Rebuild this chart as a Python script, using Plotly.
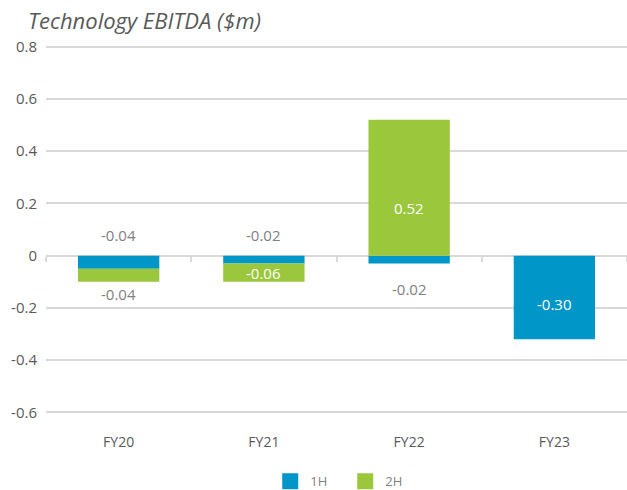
import plotly.graph_objects as go

categories = ["FY20", "FY21", "FY22", "FY23"]
h1_values = [-0.05, -0.03, -0.03, -0.32]
h2_values = [-0.05, -0.07, 0.52, 0.0]
h1_labels = ["-0.04", "-0.02", "-0.02", "-0.30"]
h2_labels = ["-0.04", "-0.06", "0.52", ""]
series_names = ["1H", "2H"]
y_ticks = [-0.6, -0.4, -0.2, 0, 0.2, 0.4, 0.6, 0.8]
y_tick_text = ["-0.6", "-0.4", "-0.2", "0", "0.2", "0.4", "0.6", "0.8"]

BLUE = "#0096c8"
GREEN = "#9ac73c"
GRID = "#d9d9d9"
TXT = "#595959"
LBL = "#808080"
FONT = "Open Sans"
LSIZE = 15

fig = go.Figure()
fig.add_trace(go.Bar(x=categories, y=h1_values, name=series_names[0], marker=dict(color=BLUE, line=dict(width=0)),
                     hoverinfo="skip", showlegend=False))
fig.add_trace(go.Bar(x=categories, y=h2_values, name=series_names[1], marker=dict(color=GREEN, line=dict(width=0)),
                     hoverinfo="skip", showlegend=False))
# legend entries with large square swatches
for nm, col in zip(series_names, [BLUE, GREEN]):
    fig.add_trace(go.Scatter(x=[None], y=[None], mode="markers", name=nm,
                             marker=dict(symbol="square", size=16, color=col), hoverinfo="skip"))
# invisible trace for the zero-crossing axis ticks
fig.add_trace(go.Scatter(x=categories, y=[0] * len(categories), xaxis="x2", mode="markers",
                         marker=dict(opacity=0), showlegend=False, hoverinfo="skip"))

ymin, ymax = -0.61, 0.81
zero_pos = (0 - ymin) / (ymax - ymin)
plot_h = 490 - 44 - 75

annotations = [dict(text="<i>Technology EBITDA ($m)</i>", xref="paper", yref="paper", x=-0.035, xanchor="left",
                    y=1.0 + 24 / plot_h, yanchor="middle", showarrow=False,
                    font=dict(size=22, color=TXT, family=FONT))]
for i, c in enumerate(categories):
    v1, v2 = h1_values[i], h2_values[i]
    if h1_labels[i]:
        if c == "FY23":
            annotations.append(dict(x=c, y=v1 / 2, text=h1_labels[i], showarrow=False, yshift=-7,
                                    font=dict(color="white", size=LSIZE, family=FONT)))
        elif c == "FY22":
            annotations.append(dict(x=c, y=v1, text=h1_labels[i], showarrow=False, yanchor="top", yshift=-14,
                                    font=dict(color=LBL, size=LSIZE, family=FONT)))
        else:
            annotations.append(dict(x=c, y=0, text=h1_labels[i], showarrow=False, yanchor="bottom", yshift=9,
                                    font=dict(color=LBL, size=LSIZE, family=FONT)))
    if h2_labels[i]:
        if c == "FY20":
            annotations.append(dict(x=c, y=v1 + v2, text=h2_labels[i], showarrow=False, yanchor="top", yshift=0,
                                    font=dict(color=LBL, size=LSIZE, family=FONT)))
        elif c == "FY21":
            annotations.append(dict(x=c, y=v1 + v2 / 2, text=h2_labels[i], showarrow=False,
                                    font=dict(color="white", size=LSIZE, family=FONT)))
        else:
            annotations.append(dict(x=c, y=v2 / 2, text=h2_labels[i], showarrow=False, yshift=-20,
                                    font=dict(color="white", size=LSIZE, family=FONT)))

fig.update_layout(
    width=627, height=490,
    barmode="relative",
    bargap=0.44,
    paper_bgcolor="white", plot_bgcolor="white",
    margin=dict(l=46, r=0, t=44, b=75, autoexpand=False),
    font=dict(family=FONT, color=TXT, size=14),
    xaxis=dict(type="category", categoryorder="array", categoryarray=categories, range=[-0.5, 3.5],
               showline=False, showgrid=False, ticks="", tickfont=dict(size=14, color=TXT),
               ticklabelstandoff=17, zeroline=False, automargin=False),
    xaxis2=dict(type="category", categoryorder="array", categoryarray=categories, range=[-0.5, 3.5],
                overlaying="x", anchor="free", position=zero_pos, side="bottom",
                showline=False, showgrid=False, showticklabels=False, ticks="outside", tickson="boundaries",
                ticklen=5, tickcolor=GRID, tickwidth=1.5, zeroline=False),
    yaxis=dict(range=[ymin, ymax], tickvals=y_ticks, ticktext=y_tick_text, showgrid=True,
               gridcolor=GRID, gridwidth=1.5, zeroline=False, showline=False, ticks="", ticklabelstandoff=8,
               tickfont=dict(size=15, color=TXT), automargin=False),
    legend=dict(orientation="h", x=0.515, xanchor="center", y=-0.138, yanchor="top",
                font=dict(size=13, color=LBL), itemwidth=30, entrywidth=30, traceorder="normal"),
    annotations=annotations,
    showlegend=True,
)

fig.write_html("out.html", post_script="document.body.style.margin='0';",
               config={"displayModeBar": False})
